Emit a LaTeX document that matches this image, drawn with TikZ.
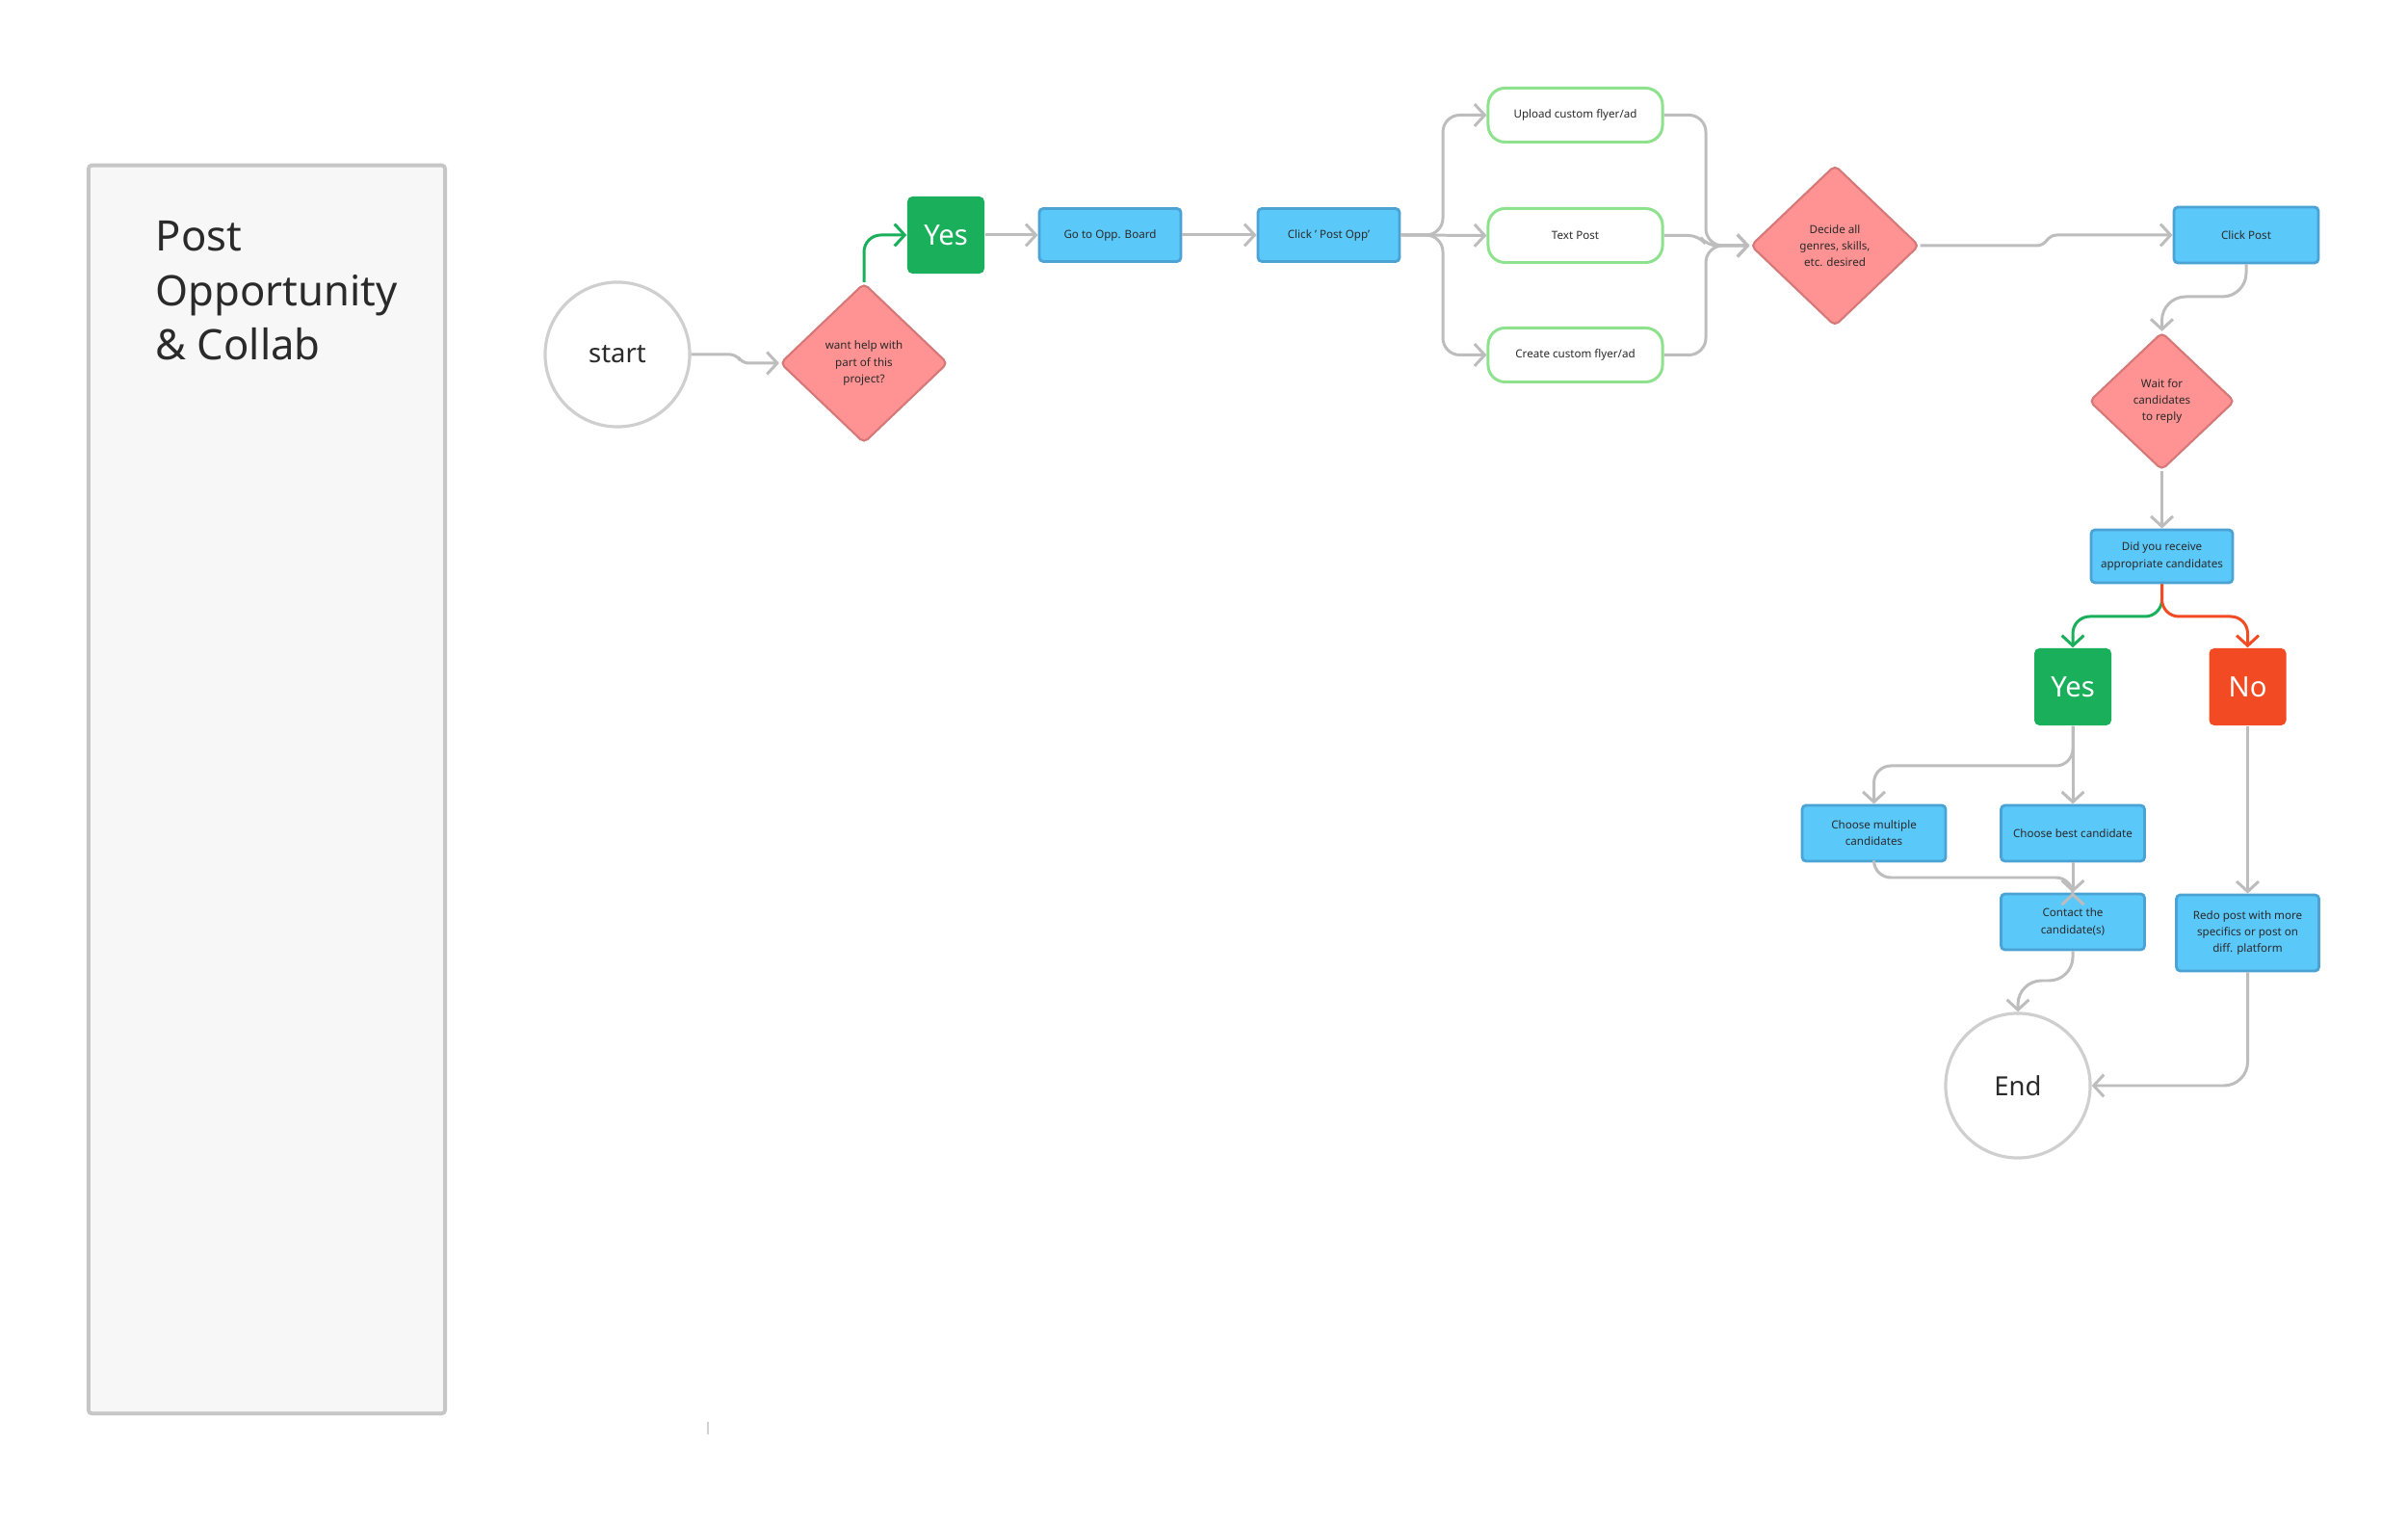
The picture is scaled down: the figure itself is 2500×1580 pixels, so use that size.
\documentclass[tikz,border=0pt]{standalone}
\usepackage{fontspec}
\setmainfont{Noto Sans}
\usetikzlibrary{shapes.geometric,arrows.meta}
\definecolor{tdark}{HTML}{2A2A2A}
\definecolor{fblue}{HTML}{5BC8FA}
\definecolor{bblue}{HTML}{4AA3D2}
\definecolor{fpink}{HTML}{FF9292}
\definecolor{bpink}{HTML}{D47878}
\definecolor{ygreen}{HTML}{19AF5B}
\definecolor{nred}{HTML}{F24A23}
\definecolor{cgray}{HTML}{BDBDBD}
\definecolor{ccircle}{HTML}{CFCFCF}
\definecolor{pgreen}{HTML}{8EE28E}
\definecolor{panelfill}{HTML}{F7F7F7}
\definecolor{panelline}{HTML}{C6C6C6}
\begin{document}
\begin{tikzpicture}[x=0.01cm,y=-0.01cm,
  smalltxt/.style={font=\fontsize{3.3pt}{4.85pt}\selectfont, text=tdark, align=center},
  bluebox/.style={rectangle, draw=bblue, fill=fblue, line width=0.8pt, rounded corners=1.2pt,
    minimum width=1.47cm, minimum height=0.55cm, inner sep=0pt, smalltxt},
  pill/.style={rectangle, draw=pgreen, fill=white, line width=0.85pt, rounded corners=5pt,
    minimum width=1.81cm, minimum height=0.56cm, inner sep=0pt, smalltxt},
  decision/.style={diamond, aspect=1, draw=bpink, fill=fpink, line width=0.6pt, rounded corners=1.5pt,
    inner sep=0pt, smalltxt},
  answer/.style={rectangle, rounded corners=1.5pt, minimum size=0.8cm, inner sep=0pt,
    text=white, font=\fontsize{8.3pt}{10pt}\selectfont},
  terminal/.style={circle, draw=ccircle, fill=white, line width=0.9pt, minimum size=1.5cm, inner sep=0pt,
    text=tdark, font=\fontsize{7.8pt}{9pt}\selectfont},
  conn/.style={draw=cgray, line width=0.85pt, rounded corners=5pt,
    -{Straight Barb[length=3pt,width=6.5pt]}},
  title/.style={anchor=base west, text=tdark, font=\fontsize{12.4pt}{16pt}\selectfont, inner sep=0pt}
]
\useasboundingbox (0,0) rectangle (2500,1580);
\fill[white] (0,0) rectangle (2500,1580);

% side panel
\node[rectangle, draw=panelline, fill=panelfill, line width=1.1pt, rounded corners=1pt,
  minimum width=3.70cm, minimum height=12.95cm, inner sep=0pt] (panel) at (277,819.5) {};
\node[title] (t1) at (161,261) {Post};
\node[title] (t2) at (161,318) {Opportunity};
\node[title] (t3) at (161,374) {\& Collab};

% tiny tick
\draw[line width=0.7pt, draw=cgray!70] (735,1476) -- (735,1489);

% nodes
\node[terminal] (start) at (641,368) {start};
\node[decision, minimum width=1.74cm, minimum height=1.66cm] (d1) at (897,377) {want help with\\part of this\\project?};
\node[answer, fill=ygreen] (yes1) at (982,244) {Yes};
\node[bluebox] (goto) at (1152.5,244) {Go to Opp. Board};
\node[bluebox] (clk) at (1379.5,244) {Click ' Post Opp'};
\node[pill] (up) at (1635.5,119.5) {Upload custom flyer/ad};
\node[pill] (tp) at (1635.5,244.5) {Text Post};
\node[pill] (cr) at (1635.5,368.5) {Create custom flyer/ad};
\node[decision, minimum width=1.75cm, minimum height=1.67cm] (d2) at (1905,255) {Decide all\\genres, skills,\\etc. desired};
\node[bluebox, minimum width=1.50cm, minimum height=0.58cm] (cp) at (2332,244) {Click Post};
\node[decision, minimum width=1.51cm, minimum height=1.43cm] (wait) at (2244.5,416.5) {Wait for\\candidates\\to reply};
\node[bluebox] (did) at (2244.5,577.5) {Did you receive\\appropriate candidates};
\node[answer, fill=ygreen] (yes2) at (2152,713) {Yes};
\node[answer, fill=nred] (no) at (2333.5,713) {No};
\node[bluebox, minimum width=1.49cm, minimum height=0.58cm] (cm) at (1945.5,865) {Choose multiple\\candidates};
\node[bluebox, minimum width=1.49cm, minimum height=0.58cm] (cb) at (2152,865) {Choose best candidate};
\node[bluebox, minimum width=1.49cm, minimum height=0.58cm] (ct) at (2152,957) {Contact the\\candidate(s)};
\node[bluebox, minimum width=1.48cm, minimum height=0.79cm] (redo) at (2333.5,968.5) {Redo post with more\\specifics or post on\\diff. platform};
\node[terminal] (end) at (2095,1127) {End};

% connectors
\draw[conn, rounded corners=2pt] (start.east) -- (765,368) -- (770,377) -- (d1.west);
\draw[conn, draw=ygreen] (d1.north) |- (yes1.west);
\draw[conn] (yes1.east) -- (goto.west);
\draw[conn] (goto.east) -- (clk.west);
\draw[conn] (clk.east) -- (1498,244) |- (up.west);
\draw[conn] (clk.east) -- (tp.west);
\draw[conn] (clk.east) -- (1498,244) |- (cr.west);
\draw[conn] (up.east) -- (1771,119.5) |- (d2.west);
\draw[conn, rounded corners=3pt] (tp.east) -- (1764,244.5) -- (1772,255) -- (d2.west);
\draw[conn] (cr.east) -- (1771,368.5) |- (d2.west);
\draw[conn, rounded corners=2pt] (d2.east) -- (2122,255) -- (2128,244) -- (cp.west);
\draw[conn, rounded corners=7pt] (cp.south) -- (2332,308) -- (2244.5,308) -- (wait.north);
\draw[conn] (wait.south) -- (did.north);
\draw[conn, draw=ygreen] (did.south) -- (2244.5,640) -- (2152,640) -- (yes2.north);
\draw[conn, draw=nred] (did.south) -- (2244.5,640) -- (2333.5,640) -- (no.north);
\draw[conn] (yes2.south) -- (2152,795) -- (1945.5,795) -- (cm.north);
\draw[conn] (yes2.south) -- (cb.north);
\draw[conn] (cm.south) -- (1945.5,911) -- (2152,911) -- (ct.north);
\draw[conn] (cb.south) -- (ct.north);
\draw[conn, rounded corners=7pt] (ct.south) -- (2152,1018) -- (2095,1018) -- (end.north);
\draw[conn] (no.south) -- (redo.north);
\draw[conn, rounded corners=7pt] (redo.south) |- (end.east);
\end{tikzpicture}
\end{document}
